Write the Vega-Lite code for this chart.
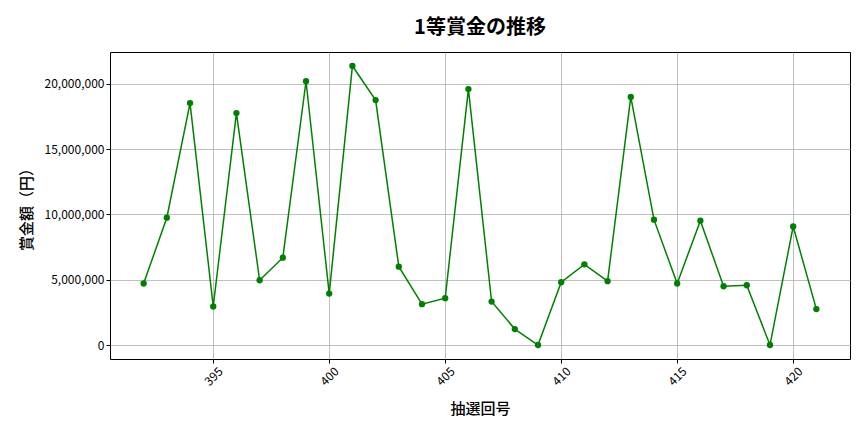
{
  "$schema": "https://vega.github.io/schema/vega-lite/v6.json",
  "width": 740,
  "height": 307,
  "autosize": {"type": "none"},
  "padding": {"left": 110, "top": 52, "right": 14, "bottom": 73},
  "background": "white",
  "title": {
    "text": "1等賞金の推移",
    "font": "Noto Sans CJK JP",
    "fontSize": 20,
    "fontWeight": "bold",
    "color": "black",
    "offset": 14
  },
  "config": {
    "view": {"stroke": "black", "strokeWidth": 1},
    "axis": {
      "labelFont": "Noto Sans CJK JP",
      "titleFont": "Noto Sans CJK JP",
      "labelFontSize": 12,
      "labelColor": "black",
      "titleFontSize": 15,
      "titleFontWeight": 500,
      "titleColor": "black",
      "gridColor": "#b0b0b0",
      "gridWidth": 0.8,
      "tickColor": "black",
      "tickSize": 4,
      "domain": false
    }
  },
  "data": {
    "values": [
      {"draw": 392, "prize": 4710000},
      {"draw": 393, "prize": 9750000},
      {"draw": 394, "prize": 18530000},
      {"draw": 395, "prize": 2950000},
      {"draw": 396, "prize": 17760000},
      {"draw": 397, "prize": 4960000},
      {"draw": 398, "prize": 6690000},
      {"draw": 399, "prize": 20200000},
      {"draw": 400, "prize": 3940000},
      {"draw": 401, "prize": 21370000},
      {"draw": 402, "prize": 18760000},
      {"draw": 403, "prize": 6000000},
      {"draw": 404, "prize": 3130000},
      {"draw": 405, "prize": 3590000},
      {"draw": 406, "prize": 19600000},
      {"draw": 407, "prize": 3330000},
      {"draw": 408, "prize": 1220000},
      {"draw": 409, "prize": 0},
      {"draw": 410, "prize": 4810000},
      {"draw": 411, "prize": 6180000},
      {"draw": 412, "prize": 4890000},
      {"draw": 413, "prize": 19000000},
      {"draw": 414, "prize": 9600000},
      {"draw": 415, "prize": 4710000},
      {"draw": 416, "prize": 9520000},
      {"draw": 417, "prize": 4500000},
      {"draw": 418, "prize": 4580000},
      {"draw": 419, "prize": 0},
      {"draw": 420, "prize": 9080000},
      {"draw": 421, "prize": 2750000}
    ]
  },
  "encoding": {
    "x": {
      "field": "draw",
      "type": "quantitative",
      "title": "抽選回号",
      "scale": {"domain": [390.55, 422.45], "nice": false, "zero": false},
      "axis": {
        "values": [395, 400, 405, 410, 415, 420],
        "format": "d",
        "labelAngle": -45,
        "labelAlign": "center",
        "labelBaseline": "middle",
        "labelPadding": 13,
        "titlePadding": 14
      }
    },
    "y": {
      "field": "prize",
      "type": "quantitative",
      "title": "賞金額（円）",
      "scale": {"domain": [-1070000, 22440000], "nice": false, "zero": false},
      "axis": {
        "values": [0, 5000000, 10000000, 15000000, 20000000],
        "format": ",d",
        "titlePadding": 10
      }
    }
  },
  "layer": [
    {"mark": {"type": "line", "color": "green", "strokeWidth": 1.5}},
    {"mark": {"type": "circle", "color": "green", "opacity": 1, "size": 40}}
  ]
}
